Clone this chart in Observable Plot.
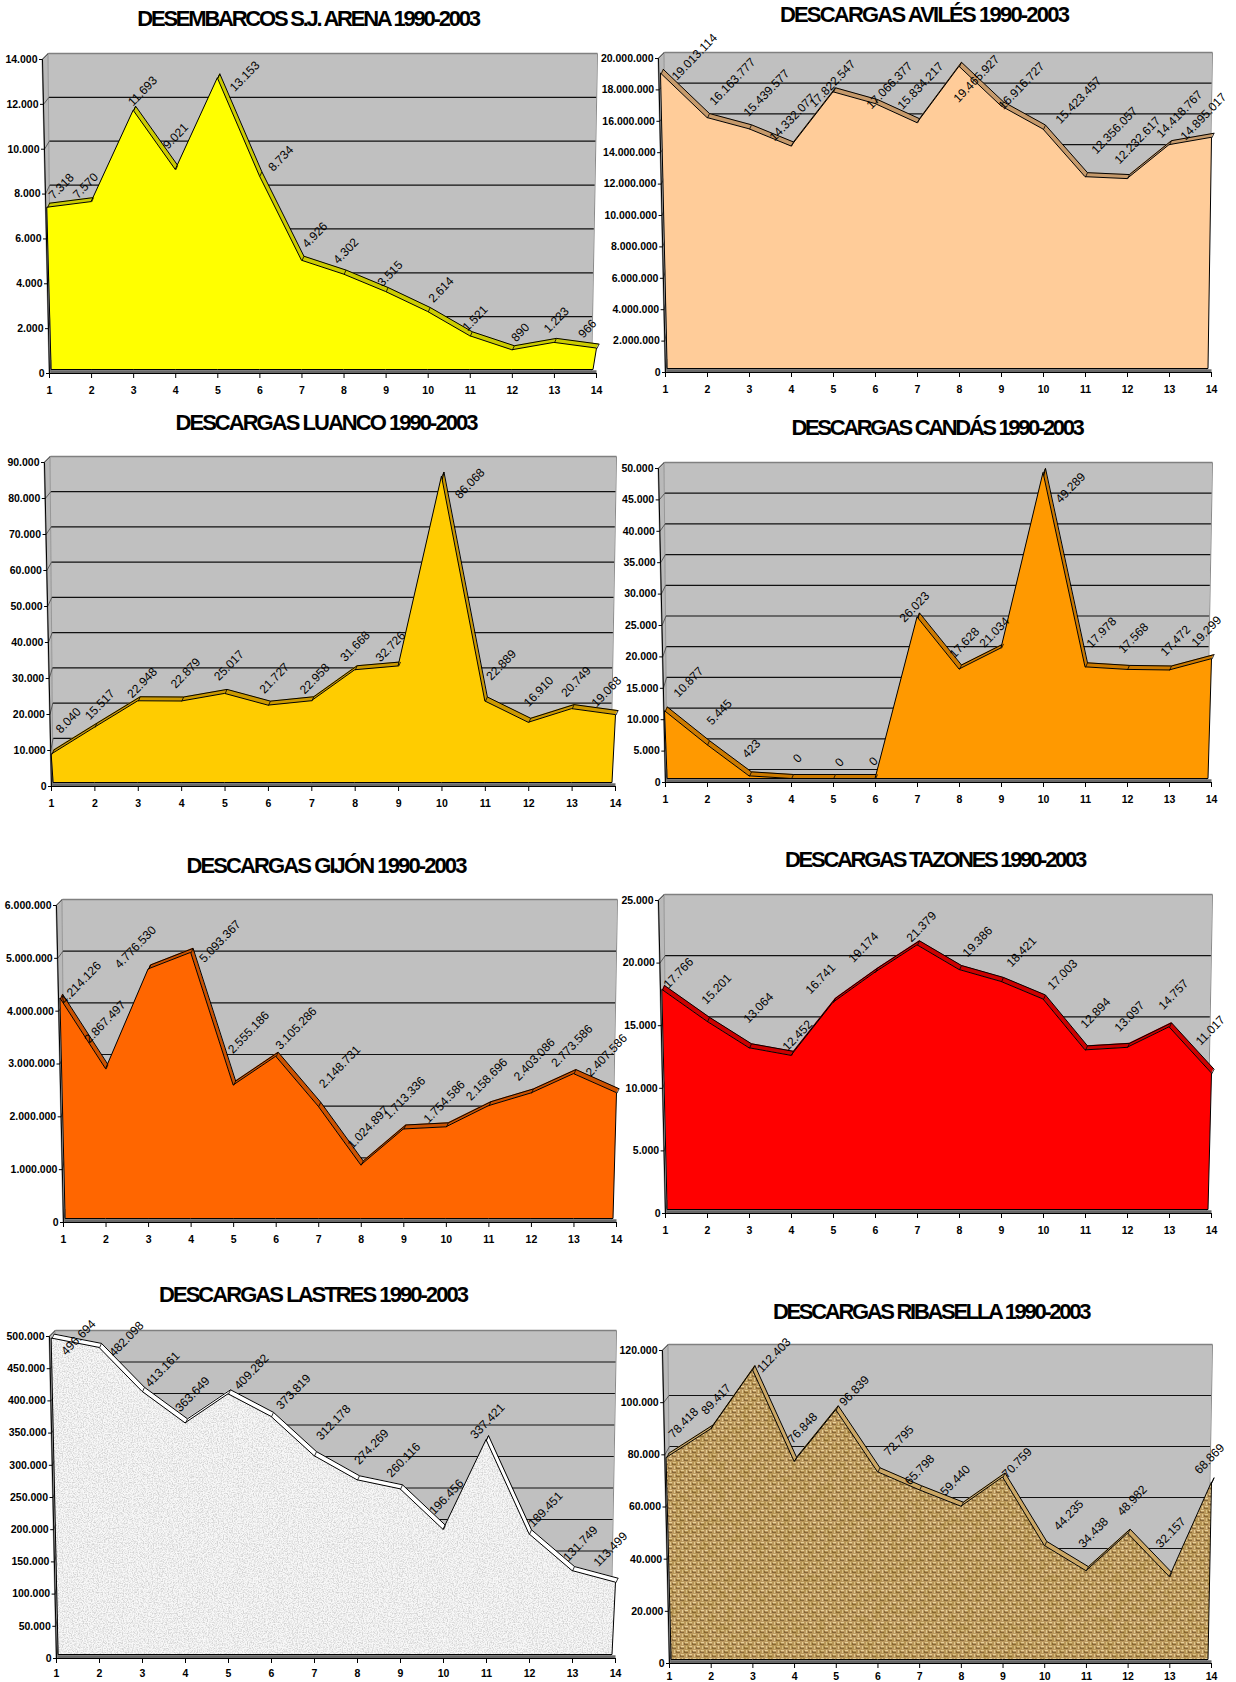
<!DOCTYPE html>
<html lang="es">
<head>
<meta charset="utf-8">
<title>Descargas 1990-2003</title>
<script src="https://cdn.jsdelivr.net/npm/d3@7"></script>
<script src="https://cdn.jsdelivr.net/npm/@observablehq/plot@0.6"></script>
<style>
html,body{margin:0;padding:0;background:#fff;overflow:hidden}
#page{position:relative;width:1236px;height:1682px;overflow:hidden;font-family:"Liberation Sans",Arial,sans-serif}
.ttl{position:absolute;font-weight:700;font-size:22px;line-height:24px;white-space:nowrap;color:#000;transform:translate(-50%,-50%)}
svg.chart{position:absolute}
</style>
</head>
<body>
<svg width="0" height="0" style="position:absolute">
  <defs>
    <filter id="noiseGrey" x="0" y="0" width="100%" height="100%">
      <feTurbulence type="fractalNoise" baseFrequency="0.8" numOctaves="2" seed="4"/>
      <feColorMatrix type="matrix" values="0 0 0 0 0  0 0 0 0 0  0 0 0 0 0  3 0 0 0 -1.2"/>
      <feComponentTransfer><feFuncA type="linear" slope="0.15"/></feComponentTransfer>
    </filter>
    <filter id="noiseBrown" x="0" y="0" width="100%" height="100%">
      <feTurbulence type="fractalNoise" baseFrequency="0.12" numOctaves="3" seed="9"/>
      <feColorMatrix type="matrix" values="0 0 0 0 0.25  0 0 0 0 0.15  0 0 0 0 0  3 0 0 0 -1.2"/>
      <feComponentTransfer><feFuncA type="linear" slope="0.16"/></feComponentTransfer>
    </filter>
    <pattern id="speckle" width="240" height="240" patternUnits="userSpaceOnUse">
      <rect width="240" height="240" fill="#f8f8f8"/>
      <rect width="240" height="240" fill="#000" filter="url(#noiseGrey)"/>
    </pattern>
    <pattern id="mottle" width="240" height="240" patternUnits="userSpaceOnUse">
      <rect width="240" height="240" fill="#000" filter="url(#noiseBrown)"/>
    </pattern>
    <pattern id="burlap" width="8" height="8" patternUnits="userSpaceOnUse">
      <rect width="8" height="8" fill="#bd9a60"/>
      <rect x="0" y="0" width="3" height="1" fill="#e8d29e"/>
      <rect x="4" y="4" width="3" height="1" fill="#e8d29e"/>
      <rect x="5" y="0" width="1" height="3" fill="#e2ca92"/>
      <rect x="1" y="4" width="1" height="3" fill="#e2ca92"/>
      <rect x="0" y="2" width="3" height="1" fill="#86673a"/>
      <rect x="4" y="6" width="3" height="1" fill="#86673a"/>
      <rect x="7" y="1" width="1" height="2" fill="#86673a"/>
      <rect x="3" y="5" width="1" height="2" fill="#86673a"/>
    </pattern>
  </defs>
</svg>
<div id="page"></div>
<script>
// ---------- values ----------
const years = [1,2,3,4,5,6,7,8,9,10,11,12,13,14];
const sjArena   = [7318,7570,11693,9021,13153,8734,4926,4302,3515,2614,1521,890,1223,966];
const aviles    = [19013114,16163777,15439577,14332077,17822547,17066377,15834217,19465927,16916727,15423457,12356057,12232617,14418767,14895017];
const luanco    = [8040,15517,22948,22879,25017,21727,22958,31668,32726,86068,22889,16910,20749,19068];
const candas    = [10877,5445,423,0,0,0,26023,17628,21034,49289,17978,17568,17472,19299];
const gijon     = [4214126,2867497,4776530,5093367,2555186,3105286,2148731,1024897,1713336,1754586,2158696,2403086,2773586,2407586];
const tazones   = [17766,15201,13064,12452,16741,19174,21379,19386,18421,17003,12894,13097,14757,11017];
const lastres   = [496694,482098,413161,363649,409282,373819,312178,274269,260116,196456,337421,189451,131749,113499];
const ribasella = [78418,89417,112403,76848,96839,72795,65798,59440,70759,44235,34438,48982,32157,68869];

const titles = {
  sjArena:"DESEMBARCOS S.J. ARENA 1990-2003", aviles:"DESCARGAS AVILÉS 1990-2003",
  luanco:"DESCARGAS LUANCO 1990-2003", candas:"DESCARGAS CANDÁS 1990-2003",
  gijon:"DESCARGAS GIJÓN 1990-2003", tazones:"DESCARGAS TAZONES 1990-2003",
  lastres:"DESCARGAS LASTRES 1990-2003", ribasella:"DESCARGAS RIBASELLA 1990-2003"
};

// ---------- axis settings ----------
const axes = {
  sjArena:[14000,2000], aviles:[20000000,2000000], luanco:[90000,10000], candas:[50000,5000],
  gijon:[6000000,1000000], tazones:[25000,5000], lastres:[500000,50000], ribasella:[120000,20000]
};

// ---------- style & placement ----------
const frames = { // x of tick 1, x of tick 14, y of top tick, y of zero; title centre & width; x tick label padding
  sjArena:  {x1:49,  x14:596,  top:59,   zero:373,  tx:308, ty:19,   tw:343, pad:8},
  aviles:   {x1:665, x14:1211, top:58,   zero:372,  tx:924, ty:15,   tw:289, pad:8},
  luanco:   {x1:51,  x14:615,  top:462,  zero:786,  tx:326, ty:423,  tw:301, pad:8},
  candas:   {x1:665, x14:1211, top:468,  zero:782,  tx:937, ty:428,  tw:291, pad:8},
  gijon:    {x1:63,  x14:616,  top:905,  zero:1222, tx:326, ty:866,  tw:279, pad:8},
  tazones:  {x1:665, x14:1211, top:900,  zero:1213, tx:935, ty:860,  tw:300, pad:8},
  lastres:  {x1:56,  x14:615,  top:1336, zero:1658, tx:313, ty:1295, tw:308, pad:6},
  ribasella:{x1:669, x14:1211, top:1350, zero:1663, tx:931, ty:1312, tw:317, pad:4}
};
const skins = {
  sjArena:  {front:"#ffff00", side:"#cccc00"},
  aviles:   {front:"#ffcc99", side:"#c69a6b"},
  luanco:   {front:"#ffcc00", side:"#cc9900"},
  candas:   {front:"#ff9900", side:"#cc7a00"},
  gijon:    {front:"#ff6600", side:"#cc5200"},
  tazones:  {front:"#ff0000", side:"#cc0000"},
  lastres:  {front:"url(#speckle)", side:"#ffffff"},
  ribasella:{front:"url(#burlap)", side:"#cba765"}
};
// the source labels were hand-placed: pixel nudge of each label away from its point
const labelNudge = {
  sjArena:[[12,-23],[-6,-18],[9,-20],[0,-35],[27,-2],[21,-19],[13,-28],[2,-26],[4,-21],[13,-25],[5,-21],[8,-21],[2,-26],[-9,-23]],
  aviles:[[29,-17],[25,-37],[17,-37],[1,-30],[-1,-9],[14,-19],[3,-38],[17,12],[20,-21],[35,-30],[29,-48],[10,-40],[10,-32],[-8,-22]],
  luanco:[[17,-37],[5,-26],[4,-21],[4,-31],[4,-31],[6,-30],[3,-25],[0,-26],[-8,-22],[28,7],[16,-39],[10,-34],[4,-30],[-9,-26]],
  candas:[[23,-32],[12,-36],[2,-31],[6,-24],[6,-20],[-2,-21],[-3,-12],[5,-29],[-7,-18],[27,15],[16,-37],[6,-34],[6,-32],[-5,-30]],
  gijon:[[17,-17],[-1,-49],[-13,-23],[29,-12],[15,-55],[20,-30],[21,-42],[7,-41],[1,-34],[-2,-28],[-2,-29],[3,-36],[-2,-30],[-10,-40]],
  tazones:[[13,-18],[9,-34],[9,-42],[6,-22],[-13,-25],[-12,-26],[4,-19],[18,-29],[20,-31],[19,-26],[10,-39],[2,-33],[4,-34],[-1,-45]],
  lastres:[[22,-1],[27,-9],[20,-23],[7,-30],[23,-23],[22,-26],[19,-35],[14,-35],[3,-31],[3,-35],[1,-20],[16,-27],[8,-30],[-5,-36]],
  ribasella:[[14,-36],[5,-31],[21,-15],[8,-35],[18,-20],[21,-33],[0,-22],[-6,-28],[14,-16],[24,-33],[7,-41],[4,-35],[1,-47],[-2,-25]]
};
const series = {sjArena,aviles,luanco,candas,gijon,tazones,lastres,ribasella};

const dotted = v => d3.format(",")(v).replace(/,/g,".");
const page = document.getElementById("page");
const canvas = document.createElement("canvas").getContext("2d");

for (const key of Object.keys(series)) {
  const values = series[key], [max,step] = axes[key], f = frames[key], skin = skins[key];
  const W = f.x14 - f.x1, H = f.zero - f.top;
  const first = years[0], last = years[years.length-1];
  const ux = p => p * (last-first) / W, uy = p => p * max / H;   // pixel sizes in data units
  const ticks = d3.range(0, max + step/2, step);

  // 3-D box of the chart, expressed in data units
  const axisX = v => first - ux(7 * v / max);
  const wallL = v => first + ux(2 - 3 * v / max);
  const wallR = v => last + ux(-5 + 6 * v / max);
  const gridY = v => v + uy(6 + 7 * (1 - v / max));
  const floor = uy(3.5);
  const bandDx = 2, bandDy = 4.5;

  const rows = values.map((v,i) => {
    const fx = i === 0 ? first + ux(1 - 5.5 * v / max) : i === values.length-1 ? last + ux(0.5) : years[i];
    const fy = floor + v * (1 - floor / max);
    return {
      i, v, year: years[i], fx, fy,
      bx: i === 0 ? first + ux(2.5) : i === values.length-1 ? last - ux(3) : years[i],
      tx: fx + ux(bandDx), ty: fy + uy(bandDy)
    };
  });
  const walls = [0, max];

  const marks = [
    // back wall and its side wall
    Plot.area(walls, {x1:wallL, y1:v => v === 0 ? 0 : gridY(v), x2:wallR, y2:v => v === 0 ? 0 : gridY(v), fill:"#c0c0c0"}),
    Plot.area(walls, {x1:axisX, y1:v => v, x2:wallL, y2:v => v === 0 ? 0 : gridY(v), fill:"#b9b9b9", stroke:"#8a8a8a", strokeWidth:0.8}),
    Plot.link(ticks.filter(v => v < max), {x1:wallL, y1:gridY, x2:wallR, y2:gridY, stroke:"#111", strokeWidth:1.2}),
    Plot.link(ticks, {x1:axisX, y1:v => v, x2:wallL, y2:gridY, stroke:"#444", strokeWidth:0.8}),
    Plot.link([max], {x1:wallL, y1:gridY, x2:wallR, y2:gridY, stroke:"#808080", strokeWidth:1.6}),
    Plot.link([0], {x1:v => wallR(max), y1:() => gridY(max), x2:wallR, y2:v => 0, stroke:"#8a8a8a", strokeWidth:1}),
    // top surface of the area, then its front face
    Plot.area(rows, {x1:"tx", y1:"ty", x2:"fx", y2:"fy", fill:skin.side}),
    Plot.line(rows, {x:"tx", y:"ty", stroke:"#000", strokeWidth:1}),
    Plot.area(rows, {x1:"fx", y1:"fy", x2:"bx", y2:floor, fill:skin.front, stroke:"#000", strokeWidth:1}),
    ...(key === "ribasella" ? [Plot.area(rows, {x1:"fx", y1:"fy", x2:"bx", y2:floor, fill:"url(#mottle)"})] : []),
    Plot.link(rows, {x1:"fx", y1:"fy", x2:"tx", y2:"ty", stroke:"#000", strokeWidth:0.8}),
    // floor
    Plot.link([0], {x1:() => first + ux(1), y1:() => uy(1.6), x2:() => last, y2:() => uy(1.6), stroke:"#6a6a6a", strokeWidth:3.2}),
    Plot.ruleY([0], {stroke:"#000", strokeWidth:1}),
    // slanted value axis
    Plot.link([0], {x1:() => axisX(0), y1:() => 0, x2:() => axisX(max), y2:() => max, stroke:"#000", strokeWidth:1}),
    Plot.link(ticks, {x1:v => axisX(v) - ux(3.5), y1:v => v, x2:axisX, y2:v => v, stroke:"#000", strokeWidth:1}),
    Plot.text(ticks, {x:axisX, y:v => v, text:dotted, dx:-5, textAnchor:"end", fontSize:10.5, fontWeight:"bold", fill:"#000", ariaLabel:"ytick"}),
    // category axis
    Plot.axisX(years, {anchor:"bottom", tickSize:5, tickPadding:f.pad, tickFormat:String, fontSize:10.5, fontWeight:"bold", label:null, fill:"#000", stroke:"#000"}),
    // hand-placed value labels
    ...rows.map(d => Plot.text([d], {x:"year", y:"v", text:e => dotted(e.v), rotate:-46,
      dx:labelNudge[key][d.i][0], dy:labelNudge[key][d.i][1], fontSize:12, fill:"#000", textAnchor:"middle", ariaLabel:"value"}))
  ];

  const mL = 60, mR = 24, mT = 40, mB = 18;
  const svg = Plot.plot({
    width: W + mL + mR, height: H + mT + mB,
    marginLeft: mL, marginRight: mR, marginTop: mT, marginBottom: mB,
    x: {domain:[first,last], axis:null},
    y: {domain:[0,max], axis:null},
    style: {background:"transparent", overflow:"visible", fontFamily:'"Liberation Sans",Arial,sans-serif', maxWidth:"none"},
    marks
  });
  svg.classList.add("chart");
  svg.style.left = (f.x1 - mL) + "px";
  svg.style.top = (f.top - mT) + "px";
  d3.select(svg).selectAll('g[aria-label="ytick"]').style("letter-spacing","-0.75px");
  page.appendChild(svg);

  const t = document.createElement("div");
  t.className = "ttl";
  t.textContent = titles[key];
  canvas.font = '700 22px "Liberation Sans"';
  const natural = canvas.measureText(titles[key]).width;
  t.style.letterSpacing = ((f.tw - natural) / titles[key].length).toFixed(3) + "px";
  t.style.left = f.tx + "px";
  t.style.top = f.ty + "px";
  page.appendChild(t);
}
</script>
</body>
</html>
